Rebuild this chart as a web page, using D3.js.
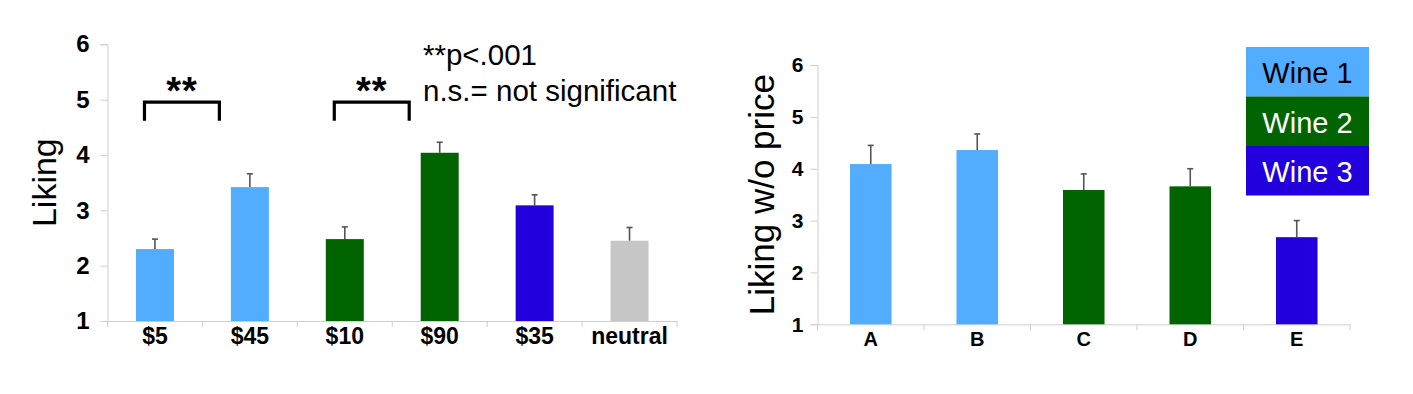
<!DOCTYPE html>
<html>
<head>
<meta charset="utf-8">
<script src="https://cdn.jsdelivr.net/npm/d3@7"></script>
<style>
  body { margin: 0; background: #fff; }
  text { font-family: 'Liberation Sans', Arial, sans-serif; }
</style>
</head>
<body>
<script>
const width = 1413;
const height = 394;

// left chart data (liking with price)
const priceLabels = ['$5', '$45', '$10', '$90', '$35', 'neutral'];
const priceValues = [2.30, 3.42, 2.48, 4.04, 3.09, 2.45];
const priceErrors = [0.18, 0.24, 0.22, 0.19, 0.19, 0.24];
const priceWine = ['w1', 'w1', 'w2', 'w2', 'w3', 'none'];

// right chart data (liking without price)
const blindLabels = ['A', 'B', 'C', 'D', 'E'];
const blindValues = [4.09, 4.36, 3.59, 3.66, 2.68];
const blindErrors = [0.36, 0.31, 0.31, 0.34, 0.32];
const blindWine = ['w1', 'w1', 'w2', 'w2', 'w3'];

const yTicks = [1, 2, 3, 4, 5, 6];
const wineNames = ['Wine 1', 'Wine 2', 'Wine 3'];
const brackets = [['$5', '$45'], ['$10', '$90']];

const colors = { w1: '#52acff', w2: '#006400', w3: '#2200dd', none: '#c6c6c6' };
const font = "'Liberation Sans', Arial, sans-serif";

const svg = d3.select('body')
  .append('svg')
  .attr('width', width)
  .attr('height', height);

function drawChart(opts) {
  const g = svg.append('g');

  const x = d3.scaleBand()
    .domain(opts.labels)
    .range([opts.x0, opts.x1]);

  const y = d3.scaleLinear().domain([1, 6]).range([opts.y0, opts.y1]);

  const barW = x.bandwidth() * opts.barFrac;

  // y axis
  const yAxis = g.append('g')
    .attr('transform', `translate(${opts.x0},0)`)
    .call(d3.axisLeft(y).tickValues(yTicks).tickSize(7).tickPadding(opts.yPad).tickFormat(d3.format('d')));
  yAxis.select('.domain').attr('stroke', '#cfcfcf');
  yAxis.selectAll('.tick line').attr('stroke', '#cfcfcf');
  yAxis.selectAll('.tick text')
    .attr('font-size', opts.yFont)
    .attr('font-weight', 'bold')
    .attr('fill', '#000')
    .style('font-family', font);

  // x axis
  const xAxis = g.append('g')
    .attr('transform', `translate(0,${opts.y0})`)
    .call(d3.axisBottom(x).tickSize(0).tickPadding(opts.xPad));
  xAxis.select('.domain').attr('stroke', '#cfcfcf');
  xAxis.selectAll('.tick text')
    .attr('font-size', opts.xFont)
    .attr('font-weight', 'bold')
    .attr('fill', '#000')
    .style('font-family', font);

  // separator ticks between categories
  const bounds = opts.labels.map(d => x(d)).concat([opts.x1]);
  g.selectAll('.sep')
    .data(bounds)
    .enter()
    .append('line')
    .attr('x1', d => d).attr('x2', d => d)
    .attr('y1', opts.y0).attr('y2', opts.y0 + 6)
    .attr('stroke', '#cfcfcf');

  // bars
  g.selectAll('.bar')
    .data(opts.labels)
    .enter()
    .append('rect')
    .attr('x', (d) => x(d) + x.bandwidth() / 2 - barW / 2)
    .attr('y', (d, i) => y(opts.values[i]))
    .attr('width', barW)
    .attr('height', (d, i) => y(1) - y(opts.values[i]))
    .attr('fill', (d, i) => colors[opts.wine[i]]);

  // error bars (upper only)
  opts.labels.forEach((d, i) => {
    const cx = x(d) + x.bandwidth() / 2;
    const top = y(opts.values[i] + opts.errors[i]);
    g.append('line')
      .attr('x1', cx).attr('x2', cx)
      .attr('y1', y(opts.values[i])).attr('y2', top)
      .attr('stroke', '#555').attr('stroke-width', 1.6);
    g.append('line')
      .attr('x1', cx - 3).attr('x2', cx + 3)
      .attr('y1', top).attr('y2', top)
      .attr('stroke', '#555').attr('stroke-width', 1.6);
  });

  // y label
  g.append('text')
    .attr('transform', `translate(${opts.labelX},${(opts.y0 + opts.y1) / 2}) rotate(-90)`)
    .attr('text-anchor', 'middle')
    .attr('dy', '0.35em')
    .attr('font-size', opts.labelFont)
    .attr('fill', '#000')
    .text(opts.yLabel);

  return { x, y, g };
}

// left chart
const left = drawChart({
  labels: priceLabels, values: priceValues, errors: priceErrors, wine: priceWine,
  x0: 107.5, x1: 677, y0: 321, y1: 44.3,
  barFrac: 0.4, yFont: '24px', xFont: '23px', yPad: 11, xPad: 7,
  labelX: 44, labelFont: '34px', yLabel: 'Liking'
});

// significance brackets
brackets.forEach(([a, b]) => {
  const xa = left.x(a) + left.x.bandwidth() / 2 - 10.5;
  const xb = left.x(b) + left.x.bandwidth() / 2 - 30.5;
  const yTop = left.y(5.0) + 2.5;
  const yBot = left.y(4.62);
  left.g.append('path')
    .attr('d', `M${xa},${yBot} V${yTop} H${xb} V${yBot}`)
    .attr('fill', 'none')
    .attr('stroke', '#000')
    .attr('stroke-width', 3.2);
  left.g.append('text')
    .attr('x', (xa + xb) / 2)
    .attr('y', yTop + 2)
    .attr('text-anchor', 'middle')
    .attr('font-size', '38px')
    .attr('font-weight', 'bold')
    .attr('letter-spacing', '1px')
    .attr('fill', '#000')
    .text('**');
});

// notes
left.g.append('text')
  .attr('x', 423).attr('y', 65)
  .attr('font-size', '29.5px').attr('fill', '#000')
  .text('**p<.001');
left.g.append('text')
  .attr('x', 423).attr('y', 101)
  .attr('font-size', '29.5px').attr('fill', '#000')
  .text('n.s.= not significant');

// right chart
drawChart({
  labels: blindLabels, values: blindValues, errors: blindErrors, wine: blindWine,
  x0: 817.5, x1: 1350, y0: 324.3, y1: 65,
  barFrac: 0.39, yFont: '21px', xFont: '20px', yPad: 7, xPad: 8,
  labelX: 762, labelFont: '35px', yLabel: 'Liking w/o price'
});

// legend
const legend = svg.append('g').attr('transform', 'translate(1246,47)');
const legendKeys = ['w1', 'w2', 'w3'];
legend.selectAll('rect')
  .data(legendKeys)
  .enter()
  .append('rect')
  .attr('x', 0)
  .attr('y', (d, i) => i * 49.5)
  .attr('width', 123)
  .attr('height', 49.5)
  .attr('fill', d => colors[d]);
legend.selectAll('text')
  .data(wineNames)
  .enter()
  .append('text')
  .attr('x', 61.5)
  .attr('y', (d, i) => i * 49.5 + 26)
  .attr('dy', '0.35em')
  .attr('text-anchor', 'middle')
  .attr('font-size', '29px')
  .attr('fill', (d, i) => (i === 0 ? '#000' : '#fff'))
  .text(d => d);
</script>
</body>
</html>
